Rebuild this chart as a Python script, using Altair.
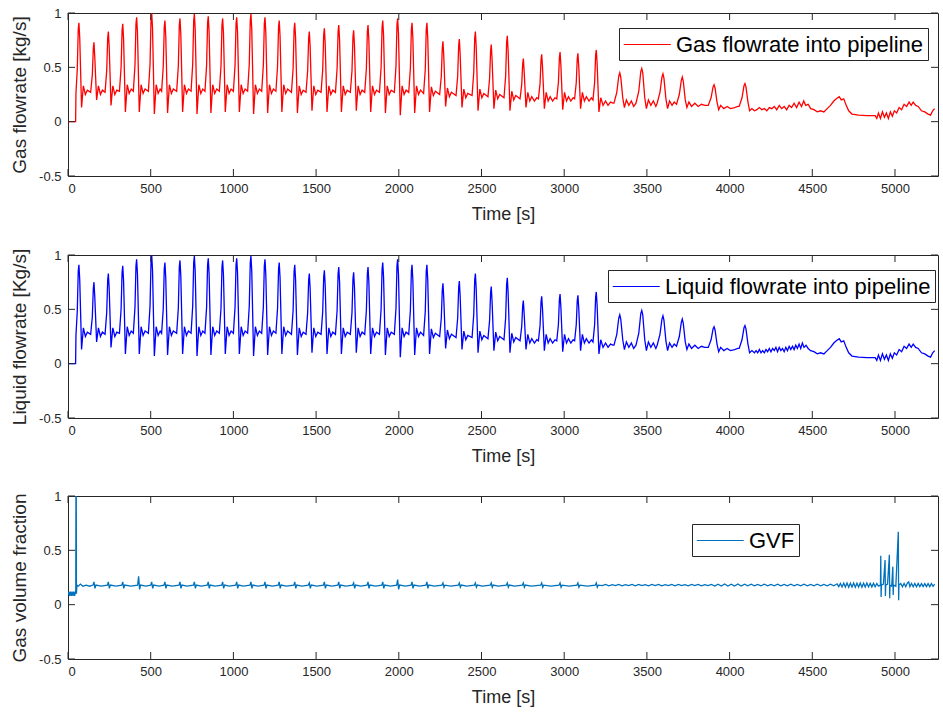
import altair as alt
import pandas as pd

# ---------------- data ----------------
gas_series = [
    (0, 0.0), (46, 0.0), (48, 0.26), (56, 0.48), (62, 0.85), (66, 0.91), (71, 0.77), (82, 0.13), (93, 0.33), (105, 0.25), (117, 0.29),
    (137, 0.27), (147, 0.43), (153, 0.67), (157, 0.73), (162, 0.59), (173, 0.20), (184, 0.33), (196, 0.25), (208, 0.29),
    (224, 0.27), (234, 0.47), (240, 0.77), (244, 0.83), (249, 0.69), (260, 0.15), (271, 0.33), (283, 0.25), (295, 0.29),
    (311, 0.28), (321, 0.50), (327, 0.84), (331, 0.90), (336, 0.76), (347, 0.09), (358, 0.34), (370, 0.26), (382, 0.30),
    (395, 0.28), (405, 0.52), (411, 0.90), (415, 0.96), (420, 0.82), (431, 0.09), (442, 0.34), (454, 0.26), (466, 0.30),
    (486, 0.28), (496, 0.53), (502, 0.94), (506, 1.00), (511, 0.86), (522, 0.07), (533, 0.34), (545, 0.26), (557, 0.30),
    (566, 0.28), (576, 0.51), (582, 0.87), (586, 0.93), (591, 0.79), (602, 0.08), (613, 0.34), (625, 0.26), (637, 0.30),
    (657, 0.28), (667, 0.51), (673, 0.89), (677, 0.95), (682, 0.81), (693, 0.09), (704, 0.34), (716, 0.26), (728, 0.30),
    (744, 0.28), (754, 0.53), (760, 0.93), (764, 0.99), (769, 0.85), (780, 0.07), (791, 0.34), (803, 0.26), (815, 0.30),
    (828, 0.28), (838, 0.52), (844, 0.91), (848, 0.97), (853, 0.83), (864, 0.08), (875, 0.34), (887, 0.26), (899, 0.30),
    (915, 0.28), (925, 0.51), (931, 0.89), (935, 0.95), (940, 0.81), (951, 0.09), (962, 0.34), (974, 0.26), (986, 0.30),
    (1000, 0.28), (1010, 0.52), (1016, 0.90), (1020, 0.96), (1025, 0.82), (1036, 0.09), (1047, 0.34), (1059, 0.26), (1071, 0.30),
    (1086, 0.28), (1096, 0.53), (1102, 0.93), (1106, 0.99), (1111, 0.85), (1122, 0.07), (1133, 0.34), (1145, 0.26), (1157, 0.30),
    (1171, 0.28), (1181, 0.52), (1187, 0.90), (1191, 0.96), (1196, 0.82), (1207, 0.08), (1218, 0.34), (1230, 0.26), (1242, 0.30),
    (1257, 0.28), (1267, 0.51), (1273, 0.87), (1277, 0.93), (1282, 0.79), (1293, 0.09), (1304, 0.34), (1316, 0.26), (1328, 0.30),
    (1351, 0.27), (1361, 0.49), (1367, 0.85), (1371, 0.91), (1376, 0.77), (1387, 0.08), (1398, 0.33), (1410, 0.25), (1422, 0.29),
    (1439, 0.27), (1449, 0.47), (1455, 0.77), (1459, 0.83), (1464, 0.69), (1475, 0.10), (1486, 0.33), (1498, 0.25), (1510, 0.29),
    (1530, 0.27), (1540, 0.48), (1546, 0.80), (1550, 0.86), (1555, 0.72), (1566, 0.09), (1577, 0.33), (1589, 0.25), (1601, 0.29),
    (1617, 0.27), (1627, 0.49), (1633, 0.83), (1637, 0.89), (1642, 0.75), (1653, 0.09), (1664, 0.33), (1676, 0.25), (1688, 0.29),
    (1707, 0.27), (1717, 0.47), (1723, 0.78), (1727, 0.84), (1732, 0.70), (1743, 0.10), (1754, 0.33), (1766, 0.25), (1778, 0.29),
    (1794, 0.27), (1804, 0.49), (1810, 0.83), (1814, 0.89), (1819, 0.75), (1830, 0.09), (1841, 0.33), (1853, 0.25), (1865, 0.29),
    (1883, 0.27), (1893, 0.50), (1899, 0.87), (1903, 0.93), (1908, 0.79), (1919, 0.08), (1930, 0.33), (1942, 0.25), (1954, 0.29),
    (1973, 0.27), (1983, 0.51), (1989, 0.89), (1993, 0.95), (1998, 0.81), (2009, 0.06), (2020, 0.33), (2032, 0.25), (2044, 0.29),
    (2060, 0.27), (2070, 0.49), (2076, 0.85), (2080, 0.91), (2085, 0.77), (2096, 0.08), (2107, 0.33), (2119, 0.25), (2131, 0.29),
    (2150, 0.26), (2160, 0.48), (2166, 0.85), (2170, 0.91), (2175, 0.77), (2186, 0.09), (2197, 0.32), (2209, 0.24), (2221, 0.28),
    (2247, 0.25), (2257, 0.42), (2263, 0.68), (2267, 0.74), (2272, 0.60), (2283, 0.14), (2294, 0.31), (2306, 0.23), (2318, 0.27),
    (2346, 0.24), (2356, 0.42), (2362, 0.70), (2366, 0.76), (2371, 0.62), (2382, 0.13), (2393, 0.30), (2405, 0.22), (2417, 0.26),
    (2443, 0.24), (2453, 0.45), (2459, 0.77), (2463, 0.83), (2468, 0.69), (2479, 0.10), (2490, 0.30), (2502, 0.22), (2514, 0.26),
    (2539, 0.23), (2549, 0.40), (2555, 0.65), (2559, 0.71), (2564, 0.57), (2575, 0.12), (2586, 0.29), (2598, 0.21), (2610, 0.25),
    (2636, 0.22), (2646, 0.42), (2652, 0.73), (2656, 0.79), (2661, 0.65), (2672, 0.10), (2683, 0.28), (2695, 0.20), (2707, 0.24),
    (2733, 0.21), (2743, 0.34), (2749, 0.53), (2753, 0.58), (2758, 0.46), (2769, 0.13), (2780, 0.27), (2792, 0.19), (2804, 0.23), (2820, 0.19), (2834, 0.22),
    (2844, 0.21), (2854, 0.35), (2860, 0.57), (2864, 0.62), (2869, 0.50), (2880, 0.12), (2891, 0.27), (2903, 0.19), (2915, 0.23), (2930, 0.19), (2944, 0.22),
    (2955, 0.21), (2965, 0.36), (2971, 0.59), (2975, 0.64), (2980, 0.52), (2991, 0.11), (3002, 0.27), (3014, 0.19), (3026, 0.23), (3040, 0.19), (3054, 0.22),
    (3063, 0.21), (3073, 0.36), (3079, 0.58), (3083, 0.63), (3088, 0.51), (3099, 0.12), (3110, 0.27), (3122, 0.19), (3134, 0.23), (3150, 0.19), (3164, 0.22),
    (3174, 0.20), (3184, 0.36), (3190, 0.61), (3194, 0.66), (3199, 0.54), (3210, 0.09), (3221, 0.22), (3235, 0.15), (3250, 0.19), (3265, 0.15), (3280, 0.18), (3295, 0.17),
    (3301, 0.17), (3318, 0.27), (3330, 0.42), (3336, 0.45), (3342, 0.41), (3354, 0.22), (3364, 0.13), (3376, 0.20), (3391, 0.15), (3406, 0.19), (3420, 0.14), (3434, 0.17),
    (3451, 0.28), (3463, 0.46), (3469, 0.49), (3475, 0.45), (3487, 0.22), (3497, 0.12), (3509, 0.20), (3524, 0.15), (3539, 0.19), (3554, 0.14),
    (3562, 0.17), (3579, 0.27), (3591, 0.41), (3597, 0.44), (3603, 0.40), (3615, 0.21), (3625, 0.12), (3637, 0.19), (3652, 0.15), (3665, 0.18),
    (3679, 0.16), (3696, 0.25), (3708, 0.38), (3714, 0.41), (3720, 0.37), (3732, 0.20), (3742, 0.13), (3754, 0.18), (3770, 0.14), (3790, 0.17), (3810, 0.14), (3830, 0.16), (3850, 0.15),
    (3871, 0.15), (3888, 0.22), (3900, 0.32), (3906, 0.34), (3912, 0.31), (3924, 0.18), (3934, 0.11), (3946, 0.15), (3965, 0.12), (3985, 0.14), (4005, 0.12), (4030, 0.13), (4050, 0.14),
    (4058, 0.14), (4075, 0.22), (4087, 0.33), (4093, 0.35), (4099, 0.32), (4111, 0.18), (4121, 0.10), (4135, 0.12), (4150, 0.10),
    (4165, 0.11), (4180, 0.13), (4195, 0.11), (4210, 0.12), (4225, 0.10), (4240, 0.13), (4255, 0.12), (4270, 0.14),
    (4285, 0.11), (4300, 0.15), (4315, 0.12), (4330, 0.14), (4345, 0.11), (4360, 0.15), (4375, 0.13), (4390, 0.17),
    (4405, 0.13), (4420, 0.18), (4435, 0.14), (4448, 0.19), (4460, 0.15), (4475, 0.16), (4490, 0.12), (4510, 0.11),
    (4530, 0.09), (4550, 0.10), (4570, 0.09), (4590, 0.12), (4610, 0.15), (4630, 0.19), (4645, 0.21), (4663, 0.23),
    (4675, 0.20), (4690, 0.21), (4705, 0.15), (4720, 0.10), (4740, 0.07), (4780, 0.06), (4830, 0.055), (4880, 0.055),
    (4890, 0.03), (4900, 0.08), (4912, 0.03), (4924, 0.09), (4936, 0.04), (4948, 0.08), (4960, 0.03), (4972, 0.09),
    (4984, 0.05), (4996, 0.10), (5010, 0.08), (5025, 0.13), (5040, 0.11), (5055, 0.16), (5070, 0.14), (5085, 0.18),
    (5098, 0.15), (5110, 0.18), (5125, 0.15), (5140, 0.14), (5160, 0.10), (5180, 0.09), (5200, 0.07), (5215, 0.06),
    (5228, 0.10), (5240, 0.12),
]

liquid_series = [
    (0, 0.0), (46, 0.0), (48, 0.26), (56, 0.48), (62, 0.85), (66, 0.91), (71, 0.77), (82, 0.13), (93, 0.33), (105, 0.25), (117, 0.29),
    (137, 0.27), (147, 0.43), (153, 0.69), (157, 0.75), (162, 0.61), (173, 0.20), (184, 0.33), (196, 0.25), (208, 0.29),
    (224, 0.27), (234, 0.47), (240, 0.77), (244, 0.83), (249, 0.69), (260, 0.15), (271, 0.33), (283, 0.25), (295, 0.29),
    (311, 0.28), (321, 0.50), (327, 0.84), (331, 0.90), (336, 0.76), (347, 0.09), (358, 0.34), (370, 0.26), (382, 0.30),
    (395, 0.28), (405, 0.52), (411, 0.90), (415, 0.96), (420, 0.82), (431, 0.09), (442, 0.34), (454, 0.26), (466, 0.30),
    (486, 0.28), (496, 0.53), (502, 0.94), (506, 1.00), (511, 0.86), (522, 0.07), (533, 0.34), (545, 0.26), (557, 0.30),
    (566, 0.28), (576, 0.51), (582, 0.87), (586, 0.93), (591, 0.79), (602, 0.08), (613, 0.34), (625, 0.26), (637, 0.30),
    (657, 0.28), (667, 0.51), (673, 0.89), (677, 0.95), (682, 0.81), (693, 0.09), (704, 0.34), (716, 0.26), (728, 0.30),
    (744, 0.28), (754, 0.53), (760, 0.93), (764, 0.99), (769, 0.85), (780, 0.07), (791, 0.34), (803, 0.26), (815, 0.30),
    (828, 0.28), (838, 0.52), (844, 0.91), (848, 0.97), (853, 0.83), (864, 0.08), (875, 0.34), (887, 0.26), (899, 0.30),
    (915, 0.28), (925, 0.51), (931, 0.89), (935, 0.95), (940, 0.81), (951, 0.09), (962, 0.34), (974, 0.26), (986, 0.30),
    (1000, 0.28), (1010, 0.52), (1016, 0.91), (1020, 0.97), (1025, 0.83), (1036, 0.09), (1047, 0.34), (1059, 0.26), (1071, 0.30),
    (1086, 0.28), (1096, 0.53), (1102, 0.93), (1106, 0.99), (1111, 0.85), (1122, 0.07), (1133, 0.34), (1145, 0.26), (1157, 0.30),
    (1171, 0.28), (1181, 0.52), (1187, 0.90), (1191, 0.96), (1196, 0.82), (1207, 0.08), (1218, 0.34), (1230, 0.26), (1242, 0.30),
    (1257, 0.28), (1267, 0.51), (1273, 0.87), (1277, 0.93), (1282, 0.79), (1293, 0.09), (1304, 0.34), (1316, 0.26), (1328, 0.30),
    (1351, 0.27), (1361, 0.49), (1367, 0.85), (1371, 0.91), (1376, 0.77), (1387, 0.08), (1398, 0.33), (1410, 0.25), (1422, 0.29),
    (1439, 0.27), (1449, 0.47), (1455, 0.77), (1459, 0.83), (1464, 0.69), (1475, 0.10), (1486, 0.33), (1498, 0.25), (1510, 0.29),
    (1530, 0.27), (1540, 0.48), (1546, 0.80), (1550, 0.86), (1555, 0.72), (1566, 0.09), (1577, 0.33), (1589, 0.25), (1601, 0.29),
    (1617, 0.27), (1627, 0.49), (1633, 0.83), (1637, 0.89), (1642, 0.75), (1653, 0.09), (1664, 0.33), (1676, 0.25), (1688, 0.29),
    (1707, 0.27), (1717, 0.47), (1723, 0.78), (1727, 0.84), (1732, 0.70), (1743, 0.10), (1754, 0.33), (1766, 0.25), (1778, 0.29),
    (1794, 0.27), (1804, 0.49), (1810, 0.83), (1814, 0.89), (1819, 0.75), (1830, 0.09), (1841, 0.33), (1853, 0.25), (1865, 0.29),
    (1883, 0.27), (1893, 0.50), (1899, 0.87), (1903, 0.93), (1908, 0.79), (1919, 0.08), (1930, 0.33), (1942, 0.25), (1954, 0.29),
    (1973, 0.27), (1983, 0.51), (1989, 0.90), (1993, 0.96), (1998, 0.82), (2009, 0.06), (2020, 0.33), (2032, 0.25), (2044, 0.29),
    (2060, 0.27), (2070, 0.49), (2076, 0.85), (2080, 0.91), (2085, 0.77), (2096, 0.08), (2107, 0.33), (2119, 0.25), (2131, 0.29),
    (2150, 0.26), (2160, 0.48), (2166, 0.85), (2170, 0.91), (2175, 0.77), (2186, 0.09), (2197, 0.32), (2209, 0.24), (2221, 0.28),
    (2247, 0.25), (2257, 0.42), (2263, 0.68), (2267, 0.74), (2272, 0.60), (2283, 0.14), (2294, 0.31), (2306, 0.23), (2318, 0.27),
    (2346, 0.24), (2356, 0.42), (2362, 0.70), (2366, 0.76), (2371, 0.62), (2382, 0.13), (2393, 0.30), (2405, 0.22), (2417, 0.26),
    (2443, 0.24), (2453, 0.45), (2459, 0.77), (2463, 0.83), (2468, 0.69), (2479, 0.10), (2490, 0.30), (2502, 0.22), (2514, 0.26),
    (2539, 0.23), (2549, 0.40), (2555, 0.65), (2559, 0.71), (2564, 0.57), (2575, 0.12), (2586, 0.29), (2598, 0.21), (2610, 0.25),
    (2636, 0.22), (2646, 0.42), (2652, 0.73), (2656, 0.79), (2661, 0.65), (2672, 0.10), (2683, 0.28), (2695, 0.20), (2707, 0.24),
    (2733, 0.21), (2743, 0.34), (2749, 0.53), (2753, 0.58), (2758, 0.46), (2769, 0.13), (2780, 0.27), (2792, 0.19), (2804, 0.23), (2820, 0.19), (2834, 0.22),
    (2844, 0.21), (2854, 0.35), (2860, 0.57), (2864, 0.62), (2869, 0.50), (2880, 0.12), (2891, 0.27), (2903, 0.19), (2915, 0.23), (2930, 0.19), (2944, 0.22),
    (2955, 0.21), (2965, 0.36), (2971, 0.59), (2975, 0.64), (2980, 0.52), (2991, 0.11), (3002, 0.27), (3014, 0.19), (3026, 0.23), (3040, 0.19), (3054, 0.22),
    (3063, 0.21), (3073, 0.36), (3079, 0.58), (3083, 0.63), (3088, 0.51), (3099, 0.12), (3110, 0.27), (3122, 0.19), (3134, 0.23), (3150, 0.19), (3164, 0.22),
    (3174, 0.20), (3184, 0.36), (3190, 0.61), (3194, 0.66), (3199, 0.54), (3210, 0.09), (3221, 0.22), (3235, 0.15), (3250, 0.19), (3265, 0.15), (3280, 0.18), (3295, 0.17),
    (3301, 0.17), (3318, 0.27), (3330, 0.42), (3336, 0.45), (3342, 0.41), (3354, 0.22), (3364, 0.13), (3376, 0.20), (3391, 0.15), (3406, 0.19), (3420, 0.14), (3434, 0.17),
    (3451, 0.28), (3463, 0.46), (3469, 0.49), (3475, 0.45), (3487, 0.22), (3497, 0.12), (3509, 0.20), (3524, 0.15), (3539, 0.19), (3554, 0.14),
    (3562, 0.17), (3579, 0.27), (3591, 0.41), (3597, 0.44), (3603, 0.40), (3615, 0.21), (3625, 0.12), (3637, 0.19), (3652, 0.15), (3665, 0.18),
    (3679, 0.16), (3696, 0.25), (3708, 0.38), (3714, 0.41), (3720, 0.37), (3732, 0.20), (3742, 0.13), (3754, 0.18), (3770, 0.14), (3790, 0.17), (3810, 0.14), (3830, 0.16), (3850, 0.15),
    (3871, 0.15), (3888, 0.22), (3900, 0.32), (3906, 0.34), (3912, 0.31), (3924, 0.18), (3934, 0.11), (3946, 0.15), (3965, 0.12), (3985, 0.14), (4005, 0.12), (4030, 0.13), (4050, 0.14),
    (4058, 0.14), (4075, 0.22), (4087, 0.33), (4093, 0.35), (4099, 0.32), (4111, 0.18), (4121, 0.10), (4135, 0.12), (4150, 0.10),
    (4160, 0.12), (4170, 0.10), (4180, 0.13), (4190, 0.10), (4200, 0.12), (4210, 0.10), (4220, 0.13), (4230, 0.11),
    (4240, 0.14), (4250, 0.11), (4260, 0.14), (4270, 0.12), (4280, 0.15), (4290, 0.11), (4300, 0.15), (4310, 0.12),
    (4320, 0.14), (4330, 0.11), (4340, 0.15), (4350, 0.12), (4360, 0.16), (4370, 0.13), (4380, 0.16), (4390, 0.13),
    (4400, 0.17), (4410, 0.14), (4420, 0.18), (4430, 0.14), (4440, 0.19), (4450, 0.15), (4462, 0.17), (4475, 0.14),
    (4490, 0.12), (4510, 0.11), (4530, 0.09), (4550, 0.10), (4570, 0.09), (4590, 0.12), (4610, 0.15), (4630, 0.19),
    (4645, 0.21), (4663, 0.23), (4675, 0.20), (4690, 0.21), (4705, 0.15), (4720, 0.10), (4740, 0.07), (4780, 0.06),
    (4830, 0.055), (4880, 0.055), (4890, 0.03), (4900, 0.08), (4912, 0.03), (4924, 0.09), (4936, 0.04), (4948, 0.08),
    (4960, 0.03), (4972, 0.09), (4984, 0.05), (4996, 0.10), (5010, 0.08), (5025, 0.13), (5040, 0.11), (5055, 0.16),
    (5070, 0.14), (5085, 0.18), (5098, 0.15), (5110, 0.18), (5125, 0.15), (5140, 0.14), (5160, 0.10), (5180, 0.09),
    (5200, 0.07), (5215, 0.06), (5228, 0.10), (5240, 0.12),
]

gvf_series = [
    (0, 0.09), (5, 0.12), (10, 0.08), (15, 0.12), (20, 0.08), (25, 0.12), (30, 0.08), (35, 0.12), (40, 0.08),
    (44, 0.11), (47, 0.10), (48, 1.0), (49, 0.12), (50, 1.0), (51, 0.10), (54, 0.18), (62, 0.17), (75, 0.19),
    (90, 0.17), (110, 0.18), (130, 0.17),
    (151, 0.18), (157, 0.21), (163, 0.15), (169, 0.18), (200, 0.17),
    (238, 0.18), (244, 0.21), (250, 0.15), (256, 0.18), (290, 0.17),
    (325, 0.18), (331, 0.21), (337, 0.15), (343, 0.18), (380, 0.17),
    (421, 0.18), (427, 0.26), (433, 0.14), (439, 0.18), (470, 0.17),
    (500, 0.18), (506, 0.21), (512, 0.15), (518, 0.18), (550, 0.17),
    (580, 0.18), (586, 0.21), (592, 0.15), (598, 0.18), (630, 0.17),
    (671, 0.18), (677, 0.21), (683, 0.15), (689, 0.18), (720, 0.17),
    (758, 0.18), (764, 0.21), (770, 0.15), (776, 0.18), (805, 0.17),
    (842, 0.18), (848, 0.21), (854, 0.15), (860, 0.18), (890, 0.17),
    (929, 0.18), (935, 0.21), (941, 0.15), (947, 0.18), (975, 0.17),
    (1014, 0.18), (1020, 0.21), (1026, 0.15), (1032, 0.18), (1060, 0.17),
    (1100, 0.18), (1106, 0.21), (1112, 0.15), (1118, 0.18), (1150, 0.17),
    (1185, 0.18), (1191, 0.21), (1197, 0.15), (1203, 0.18), (1235, 0.17),
    (1271, 0.18), (1277, 0.21), (1283, 0.15), (1289, 0.18), (1320, 0.17),
    (1365, 0.18), (1371, 0.21), (1377, 0.15), (1383, 0.18), (1415, 0.17),
    (1453, 0.18), (1459, 0.20), (1465, 0.15), (1471, 0.18), (1505, 0.17),
    (1544, 0.18), (1550, 0.21), (1556, 0.15), (1562, 0.18), (1595, 0.17),
    (1631, 0.18), (1637, 0.21), (1643, 0.15), (1649, 0.18), (1680, 0.17),
    (1721, 0.18), (1727, 0.20), (1733, 0.15), (1739, 0.18), (1770, 0.17),
    (1808, 0.18), (1814, 0.21), (1820, 0.15), (1826, 0.18), (1860, 0.17),
    (1897, 0.18), (1903, 0.21), (1909, 0.15), (1915, 0.18), (1950, 0.17),
    (1987, 0.18), (1993, 0.23), (1999, 0.14), (2005, 0.18), (2040, 0.17),
    (2074, 0.18), (2080, 0.21), (2086, 0.15), (2092, 0.18), (2125, 0.17),
    (2164, 0.18), (2170, 0.21), (2176, 0.15), (2182, 0.18), (2215, 0.17),
    (2261, 0.18), (2267, 0.20), (2273, 0.16), (2279, 0.18), (2315, 0.17),
    (2360, 0.18), (2366, 0.20), (2372, 0.16), (2378, 0.18), (2410, 0.17),
    (2457, 0.18), (2463, 0.20), (2469, 0.16), (2475, 0.18), (2505, 0.17),
    (2553, 0.18), (2559, 0.20), (2565, 0.16), (2571, 0.18), (2600, 0.17),
    (2650, 0.18), (2656, 0.20), (2662, 0.16), (2668, 0.18), (2700, 0.17),
    (2747, 0.18), (2753, 0.20), (2759, 0.16), (2765, 0.18), (2800, 0.17),
    (2858, 0.18), (2864, 0.20), (2870, 0.16), (2876, 0.18), (2920, 0.17),
    (2969, 0.18), (2975, 0.20), (2981, 0.16), (2987, 0.18), (3030, 0.17),
    (3077, 0.18), (3083, 0.20), (3089, 0.16), (3095, 0.18), (3140, 0.17),
    (3188, 0.18), (3194, 0.20), (3200, 0.16), (3206, 0.18),
    (3230, 0.176), (3250, 0.186), (3270, 0.174), (3290, 0.185), (3310, 0.175), (3330, 0.187), (3350, 0.174), (3370, 0.185),
    (3390, 0.175), (3410, 0.186), (3430, 0.174), (3450, 0.187), (3470, 0.175), (3490, 0.185), (3510, 0.174), (3530, 0.186),
    (3550, 0.175), (3570, 0.187), (3590, 0.174), (3610, 0.185), (3630, 0.175), (3650, 0.186), (3670, 0.174), (3690, 0.187),
    (3710, 0.175), (3730, 0.185), (3750, 0.174), (3770, 0.186), (3790, 0.175), (3810, 0.187), (3830, 0.174), (3850, 0.185),
    (3870, 0.175), (3890, 0.186), (3910, 0.172), (3930, 0.189), (3950, 0.171), (3970, 0.190), (3990, 0.172), (4010, 0.189),
    (4030, 0.171), (4050, 0.190), (4070, 0.172), (4090, 0.189), (4110, 0.173), (4130, 0.188), (4150, 0.174), (4170, 0.187),
    (4190, 0.174), (4210, 0.188), (4230, 0.173), (4250, 0.187), (4270, 0.174), (4290, 0.188), (4310, 0.173), (4330, 0.187),
    (4350, 0.174), (4370, 0.188), (4390, 0.173), (4410, 0.187), (4430, 0.174), (4450, 0.188), (4470, 0.173), (4490, 0.187),
    (4510, 0.174), (4530, 0.188), (4550, 0.173), (4570, 0.187), (4590, 0.174), (4610, 0.188), (4630, 0.173), (4650, 0.192),
    (4660, 0.166), (4670, 0.196), (4680, 0.163), (4690, 0.198), (4700, 0.162), (4710, 0.199), (4720, 0.161), (4730, 0.198),
    (4740, 0.162), (4750, 0.199), (4760, 0.161), (4770, 0.198), (4780, 0.162), (4790, 0.199), (4800, 0.161), (4810, 0.198),
    (4820, 0.162), (4830, 0.199), (4840, 0.163), (4850, 0.197), (4860, 0.164), (4870, 0.196), (4880, 0.165), (4890, 0.195),
    (4900, 0.170), (4912, 0.18), (4914, 0.45), (4916, 0.07), (4918, 0.18), (4930, 0.19), (4940, 0.41), (4942, 0.08), (4944, 0.18),
    (4955, 0.19), (4966, 0.46), (4968, 0.06), (4970, 0.18), (4980, 0.17), (4987, 0.35), (4989, 0.09), (4991, 0.18),
    (5005, 0.17), (5020, 0.67), (5022, 0.04), (5024, 0.18), (5035, 0.195), (5045, 0.165), (5055, 0.195), (5065, 0.165),
    (5075, 0.20), (5083, 0.21), (5090, 0.165), (5100, 0.195), (5110, 0.165), (5120, 0.195), (5130, 0.165), (5140, 0.195),
    (5150, 0.166), (5160, 0.194), (5170, 0.166), (5180, 0.194), (5190, 0.166), (5200, 0.194), (5210, 0.166), (5220, 0.194),
    (5230, 0.168), (5240, 0.19),
]

x_ticks = [0, 500, 1000, 1500, 2000, 2500, 3000, 3500, 4000, 4500, 5000]
y_ticks = [-0.5, 0, 0.5, 1]
y_titles = ["Gas flowrate [kg/s]", "Liquid flowrate [Kg/s]", "Gas volume fraction"]
legend_names = ["Gas flowrate into pipeline", "Liquid flowrate into pipeline", "GVF"]
line_colors = ["#FF0000", "#0000FF", "#0072BD"]
x_title = "Time [s]"

# ---------------- styling ----------------
W, H = 870, 163
TICK = 7
TXT = "#262626"
FONT = "Liberation Sans, Helvetica, Arial, sans-serif"
X_DOMAIN = [0, 5260]
Y_DOMAIN = [-0.5, 1]
legend_pos = [(551, 15), (540, 15), (624, 28)]
# legend line sample: custom path, scaled by sqrt(size)/2 -> 47 px long
LEGEND_SYMBOL = "M-1,0H3"
LEGEND_SIZE = 552


def panel(series, ytitle, name, color, key, lpos):
    df = pd.DataFrame(series, columns=["t", "v"])
    df[key] = name
    xs = alt.Scale(domain=X_DOMAIN, nice=False, zero=False)
    ys = alt.Scale(domain=Y_DOMAIN, nice=False, zero=False)
    x_enc = alt.X(
        "t:Q", scale=xs, title=x_title,
        axis=alt.Axis(values=x_ticks, ticks=False, domain=False, grid=False,
                      labelExpr="'' + datum.value", labelPadding=6, titlePadding=10,
                      labelFontSize=13, titleFontSize=18, labelFont=FONT, titleFont=FONT,
                      labelColor=TXT, titleColor=TXT, titleFontWeight="normal"),
    )
    y_enc = alt.Y(
        "v:Q", scale=ys, title=ytitle,
        axis=alt.Axis(values=y_ticks, ticks=False, domain=False, grid=False,
                      labelExpr="'' + datum.value", labelPadding=7, titlePadding=9,
                      labelFontSize=13, titleFontSize=19, labelFont=FONT, titleFont=FONT,
                      labelColor=TXT, titleColor=TXT, titleFontWeight="normal"),
    )
    line = alt.Chart(df).mark_line(strokeWidth=1.3, clip=True).encode(
        x=x_enc,
        y=y_enc,
        color=alt.Color(
            f"{key}:N",
            scale=alt.Scale(domain=[name], range=[color]),
            legend=alt.Legend(
                title=None, orient="none", legendX=lpos[0], legendY=lpos[1],
                symbolType=LEGEND_SYMBOL, symbolSize=LEGEND_SIZE, symbolStrokeWidth=1.2,
                labelFontSize=22, labelFont=FONT, labelColor="#000000", labelLimit=500,
                labelOffset=28, padding=4, strokeColor=TXT, fillColor="white",
            ),
        ),
    )
    xt = pd.DataFrame({"t": x_ticks})
    yt = pd.DataFrame({"v": y_ticks})
    bottom = alt.Chart(xt).mark_rule(color=TXT, strokeWidth=1).encode(
        x=x_enc, y=alt.value(H), y2=alt.value(H - TICK))
    top = alt.Chart(xt).mark_rule(color=TXT, strokeWidth=1).encode(
        x=x_enc, y=alt.value(0), y2=alt.value(TICK))
    left = alt.Chart(yt).mark_rule(color=TXT, strokeWidth=1).encode(
        y=y_enc, x=alt.value(0), x2=alt.value(TICK))
    right = alt.Chart(yt).mark_rule(color=TXT, strokeWidth=1).encode(
        y=y_enc, x=alt.value(W), x2=alt.value(W - TICK))
    return alt.layer(line, bottom, top, left, right).properties(width=W, height=H)


panels = [
    panel(s, yt_, n, c, k, p)
    for s, yt_, n, c, k, p in zip(
        [gas_series, liquid_series, gvf_series], y_titles, legend_names, line_colors,
        ["gas", "liquid", "gvf"], legend_pos)
]

chart = (
    alt.vconcat(*panels, spacing=23)
    .resolve_scale(color="independent")
    .resolve_legend(color="independent")
    .properties(padding={"left": 10, "top": 6, "right": 2, "bottom": 4}, background="white")
    .configure_view(stroke=TXT, strokeWidth=1)
)

chart.save("out.html", embed_options={"renderer": "svg", "actions": False})
